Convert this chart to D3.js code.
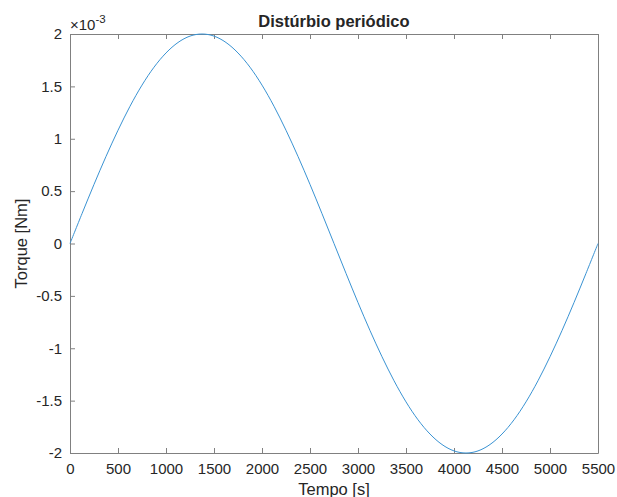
<!DOCTYPE html>
<html>
<head>
<meta charset="utf-8">
<script src="https://cdn.jsdelivr.net/npm/d3@7"></script>
<style>
body { margin: 0; background: #fff; }
text { font-family: "Liberation Sans", Arial, sans-serif; fill: #262626; }
</style>
</head>
<body>
<div id="chart"></div>
<script>
// time samples [s] and torque (units of 1e-3 Nm)
var tempo = [0,125,250,375,500,625,750,875,1000,1125,1250,1375,1500,1625,1750,1875,2000,2125,2250,2375,2500,2625,2750,
             2875,3000,3125,3250,3375,3500,3625,3750,3875,4000,4125,4250,4375,4500,4625,4750,4875,5000,5125,5250,5375,5500]
var torque = [0,0.285,0.564,0.831,1.081,1.310,1.512,1.683,1.819,1.919,1.980,2.0,1.980,1.919,1.819,1.683,1.512,1.310,1.081,0.831,0.564,0.285,0,
              -0.285,-0.564,-0.831,-1.081,-1.310,-1.512,-1.683,-1.819,-1.919,-1.980,-2.0,-1.980,-1.919,-1.819,-1.683,-1.512,-1.310,-1.081,-0.831,-0.564,-0.285,0]
var xTicks = [0,500,1000,1500,2000,2500,3000,3500,4000,4500,5000,5500]
var yTicks = [-2,-1.5,-1,-0.5,0,0.5,1,1.5,2]

var margin = {top:34, right:19, bottom:44, left:70}
var W = 617, H = 497
var width = W - margin.left - margin.right
var height = H - margin.top - margin.bottom

var svg = d3.select("#chart").append("svg")
    .attr("width", W).attr("height", H)

var g = svg.append("g")
    .attr("transform", "translate(" + margin.left + "," + margin.top + ")")

var x = d3.scaleLinear().domain([0, 5500]).range([0, width])
var y = d3.scaleLinear().domain([-2, 2]).range([height, 0])

// axes (ticks inside like matlab)
var xb = g.append("g").attr("transform", "translate(0," + height + ")")
    .call(d3.axisBottom(x).tickValues(xTicks).tickSizeInner(-5).tickSizeOuter(0).tickPadding(10).tickFormat(d3.format("d")))
var xt = g.append("g")
    .call(d3.axisTop(x).tickValues(xTicks).tickSizeInner(-5).tickSizeOuter(0).tickFormat(""))
var yl = g.append("g")
    .call(d3.axisLeft(y).tickValues(yTicks).tickSizeInner(-5).tickSizeOuter(0).tickPadding(8).tickFormat(d => d))
var yr = g.append("g").attr("transform", "translate(" + width + ",0)")
    .call(d3.axisRight(y).tickValues([]).tickSizeOuter(0))

g.selectAll(".domain, .tick line").attr("stroke", "#808080").attr("stroke-width", 1)
g.selectAll(".tick text").style("font-size", "15px").attr("fill", "#262626")

var line = d3.line().x((d, i) => x(tempo[i])).y(d => y(d)).curve(d3.curveCardinal)
g.append("path")
    .datum(torque)
    .attr("d", line)
    .attr("fill", "none")
    .attr("stroke", "#3a93d3")
    .attr("stroke-width", 1)

// title and labels
svg.append("text").attr("x", margin.left + width / 2).attr("y", 27)
    .attr("text-anchor", "middle").style("font-size", "16.5px").style("font-weight", "bold")
    .text("Distúrbio periódico")

svg.append("text").attr("x", margin.left + width / 2).attr("y", 495)
    .attr("text-anchor", "middle").style("font-size", "16.5px")
    .text("Tempo [s]")

svg.append("text").attr("transform", "translate(27," + (margin.top + height / 2) + ") rotate(-90)")
    .attr("text-anchor", "middle").style("font-size", "16.5px")
    .text("Torque [Nm]")

var ex = svg.append("text").attr("x", 70).attr("y", 30).style("font-size", "15px")
ex.append("tspan").text("×10")
ex.append("tspan").attr("dy", -7).style("font-size", "11.5px").text("-3")
</script>
</body>
</html>
